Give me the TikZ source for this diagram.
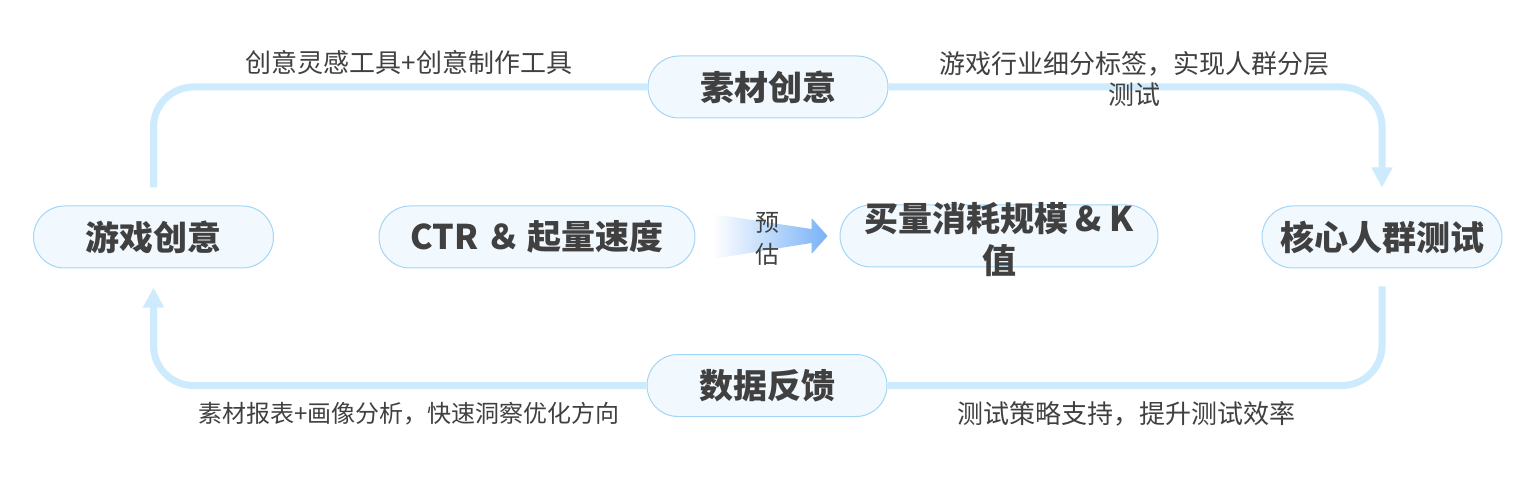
\documentclass[tikz,border=0pt]{standalone}
\usepackage{fontspec}
\setmainfont{Noto Sans CJK SC}
\usetikzlibrary{arrows.meta}
\definecolor{boxfill}{HTML}{F1F8FE}
\definecolor{boxline}{HTML}{A3D6F6}
\definecolor{linkblue}{HTML}{CDEBFC}
\definecolor{textgray}{HTML}{404040}
\definecolor{arrowblue}{HTML}{78B2F7}
\begin{document}
\begin{tikzpicture}[x=1pt,y=-1pt,
  box/.style={rectangle, draw=boxline, fill=boxfill, line width=1pt, rounded corners=31pt, minimum width=240pt, minimum height=62pt, inner sep=0pt, text=textgray, font=\fontsize{34}{42}\selectfont\bfseries},
  tag/.style={text=textgray, font=\fontsize{26}{31}\selectfont, align=center, inner sep=0pt},
  link/.style={draw=linkblue, line width=7pt, rounded corners=40pt},
  tip/.style={-{Triangle[width=20pt,length=20pt]}}]
\useasboundingbox (0,0) rectangle (1536,486);
\draw (153.5,237) node(game) [box] {游戏创意};
\draw (768,87) node(material) [box] {素材创意};
\draw (1382,237) node(core) [box] {核心人群测试};
\draw (767,385.5) node(feedback) [box] {数据反馈};
\draw (537,237) node(ctr) [box, minimum width=316pt] {CTR ＆ 起量速度};
\draw (999,236) node(buy) [box, minimum width=318pt] {\smash{\raisebox{-14pt}{\begin{tabular}{@{}c@{}}买量消耗规模 \& K\\值\end{tabular}}}};
\draw[link] ([yshift=18pt]game.north) |- (material.west);
\draw[link, tip] (material.east) -| ([yshift=18pt]core.north);
\draw[link] ([yshift=-18pt]core.south) |- (feedback.east);
\draw[link, tip] (feedback.west) -| ([yshift=-19pt]game.south);
\coordinate (estfrom) at ([xshift=17pt]ctr.east);
\coordinate (estto) at ([xshift=-12pt]buy.west);
\shade[left color=white, right color=arrowblue] ([shift={(0,-23)}]estfrom) -- ([shift={(-16,-7)}]estto) -- ([shift={(-16,-18)}]estto) -- (estto) -- ([shift={(-16,18)}]estto) -- ([shift={(-16,7)}]estto) -- ([shift={(0,22)}]estfrom) -- cycle;
\draw (767,239) node(est) [tag, font=\fontsize{24}{32}\selectfont] {预\\估};
\draw (409,63) node(toolnote) [tag] {创意灵感工具+创意制作工具};
\draw (1134,79.5) node(tagnote) [tag] {游戏行业细分标签，实现人群分层\\测试};
\draw (409,414) node(reportnote) [tag, font=\fontsize{24}{31}\selectfont] {素材报表+画像分析，快速洞察优化方向};
\draw (1126,414) node(strategynote) [tag] {测试策略支持，提升测试效率};
\end{tikzpicture}
\end{document}
